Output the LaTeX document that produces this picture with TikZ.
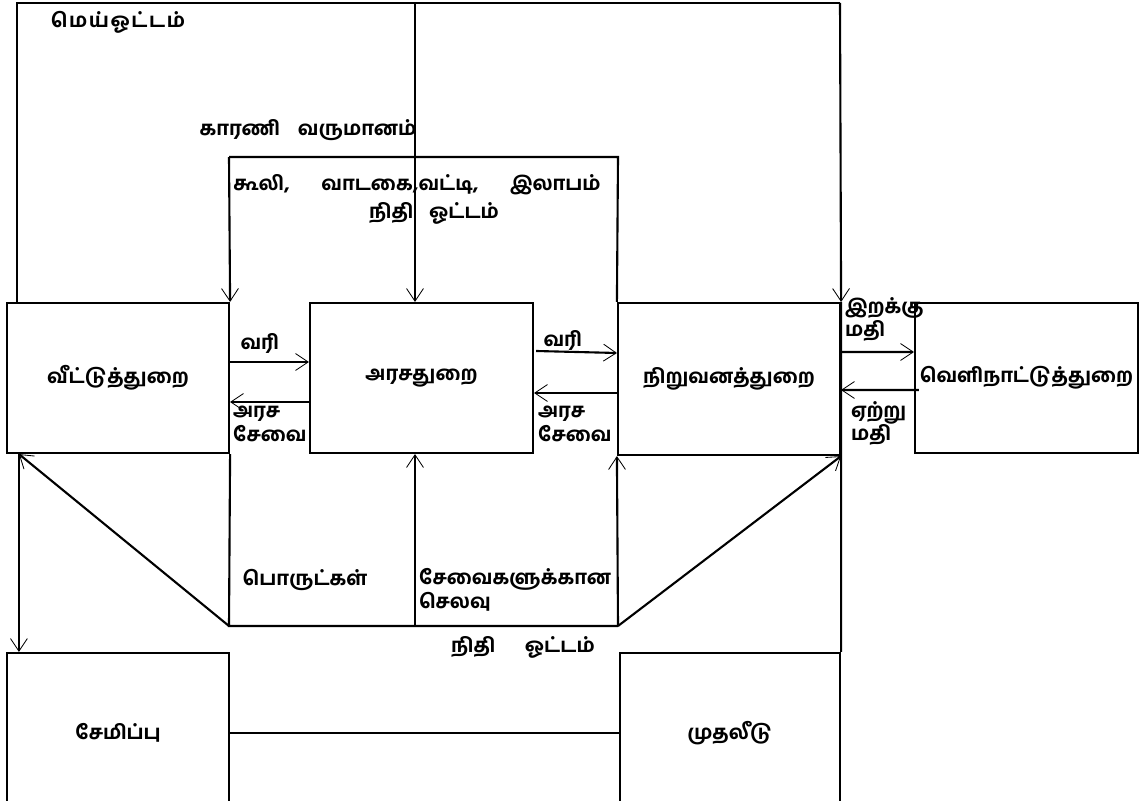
\documentclass[tikz,border=0pt]{standalone}
\usepackage{fontspec}
\newfontfamily\tamil[Script=Tamil, BoldFont={Hind Madurai Bold}]{Hind Madurai}
\usetikzlibrary{positioning, calc, arrows.meta}

\begin{document}
\begin{tikzpicture}[x=0.025cm, y=-0.025cm, line width=1.5pt,
    >={Straight Barb[length=9pt,width=12pt,line width=0.6pt]},
    every node/.style={font=\tamil\bfseries\fontsize{14pt}{17pt}\selectfont},
    sector/.style={draw, minimum width=5.55cm, minimum height=3.75cm, inner sep=0pt},
    flowlbl/.style={align=left, inner sep=0pt}]
    \useasboundingbox (0,0) rectangle (1144,801);

    % Sectors
    \node[sector] (house) at (118,378) {வீட்டுத்துறை};
    \node[sector, minimum width=5.575cm] (gov) at (421.5,378) {அரசதுறை};
    \node[sector, minimum height=3.8cm] (firm) at (729,379) {நிறுவனத்துறை};
    \node[sector, minimum width=5.575cm] (abroad) at (1026.5,378) {வெளிநாட்டுத்துறை};
    \node[sector, minimum height=4cm] (save) at (118,733) {சேமிப்பு};
    \node[sector, minimum width=5.5cm, minimum height=4cm] (invest) at (730,733) {முதலீடு};

    % Corner points of the flow lines
    \coordinate (topL) at (17,3);
    \coordinate (topM) at (415,3);
    \coordinate (topR) at (840,3);
    \coordinate (inL) at (229,157);
    \coordinate (inR) at (618,157);
    \coordinate (lowL) at (229,626);
    \coordinate (lowM) at (415,626);
    \coordinate (lowR) at (618,626);

    % Real flow (outer frame)
    \draw (topL |- house.north) -- (topL) -- (topR);
    \draw[->] (topM) -- (topM |- gov.north);
    \draw[->] (topR) -- (firm.north east);
    \draw (firm.north east) -- (invest.north east);

    % Factor income
    \draw (firm.north west) -- (inR) -- (inL);
    \draw[->] (inL) -- (house.north east);

    % Taxes and government services
    \draw[->] ([yshift=0.4cm]house.east) -- ([yshift=0.4cm]gov.west);
    \draw[->] ([yshift=-0.6cm]gov.west) -- ([yshift=-0.6cm]house.east);
    \draw[->] ([xshift=0.05cm, yshift=0.675cm]gov.east) -- ([yshift=0.65cm]firm.west);
    \draw[->] ([yshift=-0.35cm]firm.west) -- ([yshift=-0.375cm]gov.east);

    % Imports and exports
    \draw[->] ([yshift=0.675cm]firm.east) -- ([yshift=0.65cm]abroad.west);
    \draw[->] ([xshift=0.125cm, yshift=-0.3cm]abroad.west) -- ([yshift=-0.275cm]firm.east);

    % Spending
    \draw (house.south east) -- (lowL) -- (lowR);
    \draw[->] (lowM) -- (lowM |- gov.south);
    \draw[->] (lowR) -- (firm.south west);
    \draw[->] (lowR) -- (firm.south east);
    \draw[->] (lowL) -- ([xshift=0.325cm]house.south west);

    % Saving and investment
    \draw[->] ([xshift=0.325cm]house.south west) -- ([xshift=0.325cm]save.north west);
    \draw (save.east) -- (invest.west);

    % Labels
    \node (real) at (118,22) {\addfontfeature{LetterSpace=8}மெய்ஓட்டம்};
    \node (factor) at (308,130) {காரணி\hspace{0.9em}வருமானம்};
    \node (wages) at (417,185) {கூலி,\hspace{1.6em}வாடகை,வட்டி,\hspace{1.6em}இலாபம்};
    \node (money1) at (434,213) {நிதி\hspace{0.8em}ஓட்டம்};
    \node (tax1) at (260,343) {வரி};
    \node (tax2) at (563,340) {வரி};
    \node[flowlbl, anchor=north west] (serv1) at (232,405) {அரச\\சேவை};
    \node[flowlbl, anchor=north west] (serv2) at (537,405) {அரச\\சேவை};
    \node[flowlbl, anchor=north west] (imp) at (844,296) {இறக்கு\\மதி};
    \node[flowlbl, anchor=north west] (exp) at (850,400) {ஏற்று\\மதி};
    \node (goods) at (305,580) {பொருட்கள்};
    \node[flowlbl, anchor=north west] (spend) at (418,567) {சேவைகளுக்கான\\செலவு};
    \node (money2) at (523,647) {நிதி\hspace{1.5em}ஓட்டம்};
\end{tikzpicture}
\end{document}
